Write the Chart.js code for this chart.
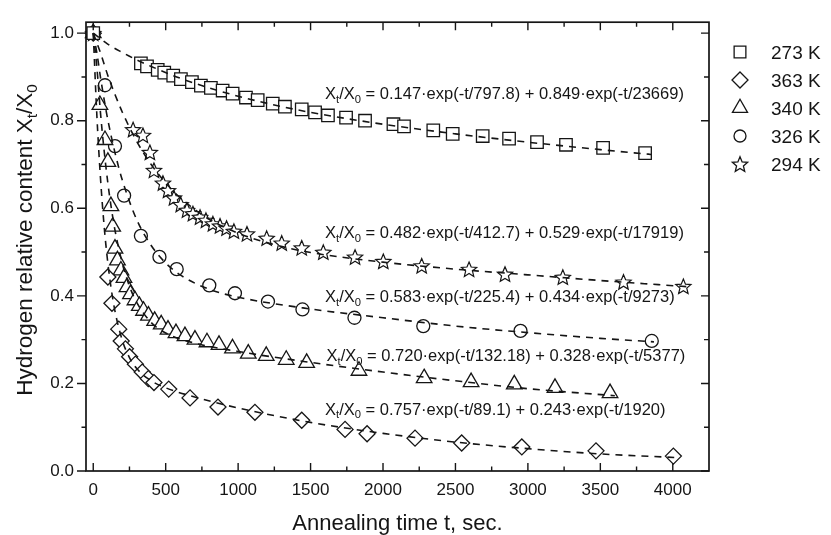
<!DOCTYPE html>
<html>
<head>
<meta charset="utf-8">
<script src="https://cdn.jsdelivr.net/npm/chart.js@4.4.1/dist/chart.umd.min.js"></script>
<style>
  html, body { margin: 0; padding: 0; background: #fff; }
  #wrap { width: 831px; height: 535px; }
</style>
</head>
<body>
<div id="wrap"><canvas id="chart" width="831" height="535"></canvas></div>
<script>
// --- DATA: annealing time (s) and relative hydrogen content ---
const T_273K = [0, 329, 371, 445, 490, 552, 605, 681, 743, 812, 893, 962, 1054, 1135, 1239, 1323, 1439, 1531, 1620, 1745, 1876, 2072, 2145, 2347, 2481, 2688, 2870, 3063, 3263, 3519, 3809];
const X_273K = [1.0, 0.931, 0.924, 0.916, 0.910, 0.903, 0.895, 0.888, 0.880, 0.875, 0.869, 0.862, 0.853, 0.847, 0.839, 0.832, 0.826, 0.819, 0.812, 0.807, 0.800, 0.792, 0.787, 0.778, 0.770, 0.765, 0.759, 0.751, 0.745, 0.738, 0.726];

const T_294K = [0, 275, 343, 391, 419, 481, 516, 557, 604, 647, 688, 737, 778, 826, 875, 920, 971, 1061, 1197, 1301, 1439, 1588, 1807, 2002, 2267, 2594, 2842, 3241, 3660, 4073];
const X_294K = [1.0, 0.780, 0.767, 0.728, 0.687, 0.658, 0.641, 0.624, 0.609, 0.596, 0.588, 0.580, 0.573, 0.565, 0.560, 0.555, 0.548, 0.542, 0.532, 0.521, 0.510, 0.500, 0.489, 0.479, 0.469, 0.461, 0.450, 0.443, 0.432, 0.422];

const T_326K = [0, 81, 150, 213, 329, 457, 576, 801, 978, 1206, 1444, 1803, 2278, 2949, 3855];
const X_326K = [1.0, 0.881, 0.742, 0.629, 0.537, 0.489, 0.461, 0.424, 0.406, 0.387, 0.369, 0.350, 0.331, 0.320, 0.297];

const T_340K = [0, 46, 81, 101, 122, 134, 150, 167, 191, 212, 233, 257, 288, 318, 347, 381, 424, 469, 516, 571, 633, 702, 785, 868, 961, 1070, 1194, 1332, 1473, 1834, 2284, 2608, 2906, 3187, 3567];
const X_340K = [1.0, 0.836, 0.756, 0.706, 0.605, 0.558, 0.508, 0.481, 0.458, 0.441, 0.420, 0.404, 0.390, 0.377, 0.366, 0.355, 0.343, 0.335, 0.323, 0.315, 0.308, 0.300, 0.294, 0.288, 0.280, 0.268, 0.263, 0.254, 0.247, 0.229, 0.212, 0.203, 0.198, 0.190, 0.178];

const T_363K = [0, 101, 129, 176, 193, 222, 251, 291, 338, 380, 419, 521, 668, 861, 1116, 1439, 1738, 1890, 2221, 2543, 2958, 3470, 4004];
const X_363K = [1.0, 0.443, 0.383, 0.324, 0.297, 0.279, 0.261, 0.244, 0.226, 0.211, 0.202, 0.187, 0.167, 0.146, 0.134, 0.116, 0.095, 0.085, 0.075, 0.064, 0.055, 0.046, 0.034];

// --- fitted two-exponential curves (dashed) ---
const FIT_T_273K = [0, 100, 200, 300, 400, 600, 800, 1000, 1250, 1500, 2000, 2500, 3000, 3500, 3850];
const FIT_X_273K = [1.0, 0.975, 0.956, 0.939, 0.924, 0.897, 0.875, 0.856, 0.836, 0.819, 0.792, 0.770, 0.751, 0.734, 0.723];

const FIT_T_294K = [0, 50, 100, 150, 200, 300, 400, 500, 600, 800, 1000, 1250, 1500, 2000, 2500, 3000, 3500, 4100];
const FIT_X_294K = [1.0, 0.955, 0.904, 0.860, 0.820, 0.753, 0.700, 0.658, 0.624, 0.575, 0.543, 0.517, 0.499, 0.477, 0.461, 0.448, 0.435, 0.421];

const FIT_T_326K = [0, 25, 50, 75, 100, 150, 200, 300, 400, 500, 600, 800, 1000, 1500, 2000, 2500, 3000, 3500, 3870];
const FIT_X_326K = [1.0, 0.955, 0.899, 0.849, 0.803, 0.727, 0.665, 0.574, 0.515, 0.475, 0.448, 0.415, 0.397, 0.370, 0.350, 0.331, 0.316, 0.303, 0.295];

const FIT_T_340K = [0, 25, 50, 75, 100, 125, 150, 200, 250, 300, 400, 500, 700, 1000, 1500, 2000, 2500, 3000, 3600];
const FIT_X_340K = [1.0, 0.922, 0.818, 0.732, 0.660, 0.600, 0.550, 0.475, 0.422, 0.385, 0.339, 0.315, 0.292, 0.273, 0.248, 0.226, 0.206, 0.188, 0.172];

const FIT_T_363K = [0, 25, 50, 75, 100, 125, 150, 200, 250, 300, 400, 500, 700, 1000, 1500, 2000, 2500, 3000, 3500, 4010];
const FIT_X_363K = [1.0, 0.812, 0.669, 0.560, 0.477, 0.414, 0.365, 0.299, 0.259, 0.234, 0.206, 0.190, 0.169, 0.144, 0.111, 0.086, 0.066, 0.051, 0.039, 0.031];

// --- axis ticks and labels ---
const X_TICKS = [0, 500, 1000, 1500, 2000, 2500, 3000, 3500, 4000];
const Y_TICKS = [0.0, 0.2, 0.4, 0.6, 0.8, 1.0];

const LEGEND_LABELS = ['273 K', '363 K', '340 K', '326 K', '294 K'];
const FIT_LABELS = [
    ' = 0.147\u00b7exp(-t/797.8) + 0.849\u00b7exp(-t/23669)',
    ' = 0.482\u00b7exp(-t/412.7) + 0.529\u00b7exp(-t/17919)',
    ' = 0.583\u00b7exp(-t/225.4) + 0.434\u00b7exp(-t/9273)',
    ' = 0.720\u00b7exp(-t/132.18) + 0.328\u00b7exp(-t/5377)',
    ' = 0.757\u00b7exp(-t/89.1) + 0.243\u00b7exp(-t/1920)'
];
// anchor of each fit label, in axis units (left edge, baseline)
const FIT_LABEL_AT = [[1600, 0.849], [1600, 0.532], [1600, 0.387], [1610, 0.252], [1600, 0.129]];

// --- STYLE ---
const FONT = '"Liberation Sans", Arial, Helvetica, sans-serif';
const INK = '#151515';

// five-pointed outline star, the one marker Chart.js has no built-in for
function starPath(ctx, x, y, r) {
    ctx.beginPath();
    for (let i = 0; i < 10; i++) {
        const rad = i % 2 === 0 ? r : r * 0.45;
        const a = -Math.PI / 2 + i * Math.PI / 5;
        ctx.lineTo(x + rad * Math.cos(a), y + 0.8 + rad * Math.sin(a));
    }
    ctx.closePath();
}

const SERIES = {
    '273 K': { t: T_273K, v: X_273K, ft: FIT_T_273K, fv: FIT_X_273K, style: 'rect', r: 8.8 },
    '363 K': { t: T_363K, v: X_363K, ft: FIT_T_363K, fv: FIT_X_363K, style: 'rectRot', r: 8 },
    '340 K': { t: T_340K, v: X_340K, ft: FIT_T_340K, fv: FIT_X_340K, style: 'triangle', r: 9 },
    '326 K': { t: T_326K, v: X_326K, ft: FIT_T_326K, fv: FIT_X_326K, style: 'circle', r: 6.5 },
    '294 K': { t: T_294K, v: X_294K, ft: FIT_T_294K, fv: FIT_X_294K, style: 'star5', r: 8 }
};

const toPoints = (ts, vs) => ts.map((t, i) => ({ x: t, y: vs[i] }));

const datasets = [];
LEGEND_LABELS.forEach(label => {
    const s = SERIES[label];
    const isStar = s.style === 'star5';
    datasets.push({
        type: 'scatter', label, data: toPoints(s.t, s.v),
        pointStyle: isStar ? 'circle' : s.style,
        pointRadius: isStar ? 0.01 : s.r,
        pointBackgroundColor: '#fff', pointBorderColor: INK, pointBorderWidth: isStar ? 0 : 1.3,
        clip: false, order: 1, star: isStar
    });
    datasets.push({
        type: 'line', label: label + ' fit', data: toPoints(s.ft, s.fv),
        borderColor: INK, borderWidth: 1.6, borderDash: [7, 6],
        pointRadius: 0, fill: false, cubicInterpolationMode: 'monotone', order: 0
    });
});

// text with subscripts, parts = [[text, isSub], ...]
function drawRich(ctx, parts, x, y, size, align) {
    const sub = size * 0.68;
    let w = 0;
    parts.forEach(([s, isSub]) => {
        ctx.font = `${isSub ? sub : size}px ${FONT}`;
        w += ctx.measureText(s).width;
    });
    let cx = align === 'center' ? x - w / 2 : x;
    parts.forEach(([s, isSub]) => {
        ctx.font = `${isSub ? sub : size}px ${FONT}`;
        ctx.fillText(s, cx, isSub ? y + size * 0.24 : y);
        cx += ctx.measureText(s).width;
    });
}

function drawSymbol(ctx, style, x, y, r) {
    ctx.beginPath();
    if (style === 'rect') {
        const h = r * Math.SQRT1_2;
        ctx.rect(x - h, y - h, 2 * h, 2 * h);
    } else if (style === 'rectRot') {
        ctx.moveTo(x, y - r); ctx.lineTo(x + r, y); ctx.lineTo(x, y + r); ctx.lineTo(x - r, y);
        ctx.closePath();
    } else if (style === 'triangle') {
        ctx.moveTo(x, y - r);
        ctx.lineTo(x + r * 0.866, y + r * 0.5);
        ctx.lineTo(x - r * 0.866, y + r * 0.5);
        ctx.closePath();
    } else if (style === 'circle') {
        ctx.arc(x, y, r, 0, Math.PI * 2);
    } else {
        starPath(ctx, x, y, r);
    }
    ctx.fill();
    ctx.stroke();
}

// stars are drawn at the positions Chart.js computed for the (invisible) points
const starMarkers = {
    id: 'starMarkers',
    afterDatasetDraw(chart, args) {
        const ds = chart.data.datasets[args.index];
        if (!ds.star) return;
        const { ctx } = chart;
        ctx.save();
        ctx.fillStyle = '#fff';
        ctx.strokeStyle = INK;
        ctx.lineWidth = 1.2;
        args.meta.data.forEach(pt => {
            starPath(ctx, pt.x, pt.y, SERIES[ds.label].r);
            ctx.fill();
            ctx.stroke();
        });
        ctx.restore();
    }
};

const decorations = {
    id: 'decorations',
    afterDraw(chart) {
        const { ctx, chartArea: a, scales: { x, y } } = chart;
        ctx.save();
        ctx.strokeStyle = INK;
        ctx.fillStyle = INK;

        // frame and tick marks
        ctx.lineWidth = 1.7;
        ctx.strokeRect(a.left, a.top, a.right - a.left, a.bottom - a.top);
        ctx.lineWidth = 1.4;
        ctx.beginPath();
        for (let v = 0; v <= 4000; v += 250) {
            const px = x.getPixelForValue(v);
            const len = v % 500 === 0 ? 8 : 4.5;
            ctx.moveTo(px, a.bottom); ctx.lineTo(px, a.bottom - len);
            ctx.moveTo(px, a.top); ctx.lineTo(px, a.top + len);
        }
        for (let k = 0; k <= 10; k++) {
            const py = y.getPixelForValue(k / 10);
            const major = k % 2 === 0;
            ctx.moveTo(a.left, py); ctx.lineTo(a.left - (major ? 9 : 4.5), py);
            ctx.moveTo(a.right, py); ctx.lineTo(a.right - (major ? 8 : 5), py);
        }
        ctx.stroke();

        // axis titles
        ctx.textAlign = 'left';
        ctx.textBaseline = 'alphabetic';
        drawRich(ctx, [['Annealing time t, sec.', false]], (a.left + a.right) / 2, 530, 22, 'center');
        ctx.save();
        ctx.translate(32, 240);
        ctx.rotate(-Math.PI / 2);
        drawRich(ctx, [['Hydrogen relative content X', false], ['t', true], ['/X', false], ['0', true]], 0, 0, 22.5, 'center');
        ctx.restore();

        // fit equations
        FIT_LABELS.forEach((txt, i) => {
            const [tx, ty] = FIT_LABEL_AT[i];
            drawRich(ctx, [['X', false], ['t', true], ['/X', false], ['0', true], [txt, false]],
                x.getPixelForValue(tx), y.getPixelForValue(ty), 16.5, 'left');
        });

        // legend
        ctx.lineWidth = 1.3;
        LEGEND_LABELS.forEach((label, i) => {
            const rowY = 52 + i * 28;
            const s = SERIES[label];
            ctx.fillStyle = '#fff';
            drawSymbol(ctx, s.style, 740, rowY, s.style === 'rect' ? 8.3 : s.style === 'circle' ? 6 : s.style === 'triangle' ? 8.7 : 8);
            ctx.fillStyle = INK;
            ctx.font = `19px ${FONT}`;
            ctx.fillText(label, 771, rowY + 6.8);
        });
        ctx.restore();
    }
};

new Chart(document.getElementById('chart'), {
    type: 'scatter',
    data: { datasets },
    options: {
        responsive: false,
        animation: false,
        devicePixelRatio: 1,
        layout: { padding: { top: 13, right: 122, left: 0, bottom: 0 } },
        plugins: { legend: { display: false }, tooltip: { enabled: false } },
        scales: {
            x: {
                type: 'linear', min: -50, max: 4250,
                afterBuildTicks: s => { s.ticks = X_TICKS.map(v => ({ value: v })); },
                afterFit: s => { s.height = 64; },
                grid: { display: false, drawTicks: false },
                border: { display: false },
                ticks: {
                    padding: 9, maxRotation: 0, autoSkip: false,
                    color: INK, font: { family: FONT, size: 17 },
                    callback: v => String(v)
                }
            },
            y: {
                type: 'linear', min: 0, max: 1.025,
                afterBuildTicks: s => { s.ticks = Y_TICKS.map(v => ({ value: v })); },
                afterFit: s => { s.width = 86; },
                grid: { display: false, drawTicks: false },
                border: { display: false },
                ticks: {
                    padding: 12, autoSkip: false,
                    color: INK, font: { family: FONT, size: 17 },
                    callback: v => v.toFixed(1)
                }
            }
        }
    },
    plugins: [starMarkers, decorations]
});
</script>
</body>
</html>
